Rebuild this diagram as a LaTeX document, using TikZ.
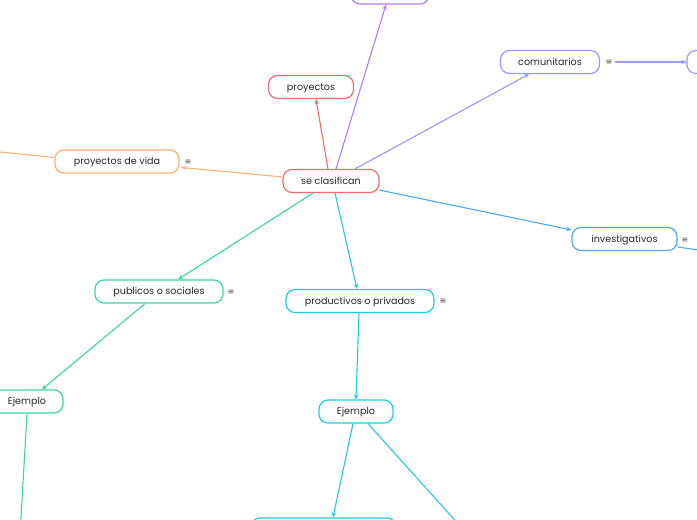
\documentclass[tikz,border=0pt]{standalone}
\usepackage{fontspec}
\setmainfont{Poppins}
\newfontfamily\symfont{DejaVu Sans}
\usetikzlibrary{arrows.meta, positioning}

\begin{document}
\begin{tikzpicture}[x=1pt, y=-1pt, >={Stealth[length=5pt, width=4.5pt]},
			topic/.style={draw=#1, line width=1.2pt, rounded corners=9pt, fill=white, minimum height=23pt, inner sep=0pt, text height=1.5ex, text depth=0.4ex, font=\fontsize{9.6}{11}\selectfont, text=textgray},
			link/.style={->, #1, line width=1.1pt},
			branch/.style={#1, line width=1.1pt},
			menu/.style={font=\symfont\fontsize{8}{9}\selectfont, text=textgray!85, inner sep=0pt}
			]
			
			% Define colors
			\definecolor{textgray}{RGB}{40,40,40}
			\definecolor{mapred}{RGB}{245,108,108}
			\definecolor{mappurple}{RGB}{182,124,240}
			\definecolor{maplilac}{RGB}{155,152,255}
			\definecolor{maporange}{RGB}{255,174,120}
			\definecolor{mapblue}{RGB}{76,168,242}
			\definecolor{mapgreen}{RGB}{60,214,164}
			\definecolor{mapcyan}{RGB}{32,204,216}
			
			\useasboundingbox (0,0) rectangle (697,520);
			\clip (0,0) rectangle (697,520);
			\fill[white] (0,0) rectangle (697,520);
			
			% 1. Central topic and upper branches
			\node[topic=mapred, minimum width=96pt] (sc) at (331,181) {se clasifican};
			\node[topic=mapred, minimum width=85pt] (proy) at (311,87) {proyectos};
			\node[topic=mappurple, minimum width=78pt] (top) at (390,-7.5) {};
			\node[topic=maplilac, minimum width=99pt] (com) at (550,62) {comunitarios};
			\node[menu] (commenu) at (609,62) {≡};
			\node[topic=maplilac, minimum width=80pt] (comnext) at (727,62) {};
			
			% 2. Side branches
			\node[topic=maporange, minimum width=124pt] (vida) at (117,161.5) {proyectos de vida};
			\node[menu] (vidamenu) at (188,162) {≡};
			\node[topic=mapblue, minimum width=105pt] (inv) at (624.5,239) {investigativos};
			\node[menu] (invmenu) at (685,240) {≡};
			
			% 3. Lower branches
			\node[topic=mapgreen, minimum width=128pt] (pub) at (159,291.5) {publicos o sociales};
			\node[menu] (pubmenu) at (231,292) {≡};
			\node[topic=mapcyan, minimum width=148pt] (prod) at (360,301) {productivos o privados};
			\node[menu] (prodmenu) at (443,301) {≡};
			\node[topic=mapgreen, minimum width=72pt] (ejpub) at (27,401.5) {Ejemplo};
			\node[topic=mapcyan, minimum width=74pt] (ejprod) at (356,411.5) {Ejemplo};
			\node[topic=mapcyan, minimum width=145pt] (bottom) at (323.5,529.5) {};
			
			% Free ends leaving the picture
			\coordinate (vidaout) at (-20,150);
			\coordinate (invout) at (720,253);
			\coordinate (ejpubout) at (20,535);
			\coordinate (ejprodout) at (470,537);
			
			% 4. Connectors
			\draw[link=mapred] ([xshift=-3pt]sc.north) -- ([xshift=5pt]proy.south);
			\draw[link=mappurple] ([xshift=5pt]sc.north) -- ([xshift=-4pt]top.south);
			\draw[link=maplilac] ([xshift=24pt]sc.north) -- ([xshift=-21pt]com.south);
			\draw[link=maplilac] ([xshift=2pt]commenu.east) -- (comnext.west);
			\draw[link=maporange] ([yshift=4pt]sc.west) -- ([xshift=2pt, yshift=-6pt]vida.east);
			\draw[branch=maporange] ([yshift=4pt]vida.west) -- (vidaout);
			\draw[link=mapblue] ([yshift=3pt]sc.south east) -- ([yshift=-3pt]inv.north west);
			\draw[branch=mapblue] ([yshift=-8pt]inv.east) -- (invout);
			\draw[link=mapgreen] ([xshift=-18pt]sc.south) -- ([xshift=19pt]pub.north);
			\draw[link=mapcyan] ([xshift=4pt]sc.south) -- ([xshift=-3pt]prod.north);
			\draw[link=mapgreen] ([xshift=-14pt]pub.south) -- ([xshift=15pt]ejpub.north);
			\draw[branch=mapgreen] (ejpub.south) -- (ejpubout);
			\draw[link=mapcyan] ([xshift=-1pt]prod.south) -- (ejprod.north);
			\draw[link=mapcyan] ([xshift=-3pt]ejprod.south) -- ([xshift=9.5pt]bottom.north);
			\draw[branch=mapcyan] ([xshift=12pt]ejprod.south) -- (ejprodout);
			
		\end{tikzpicture}
\end{document}
